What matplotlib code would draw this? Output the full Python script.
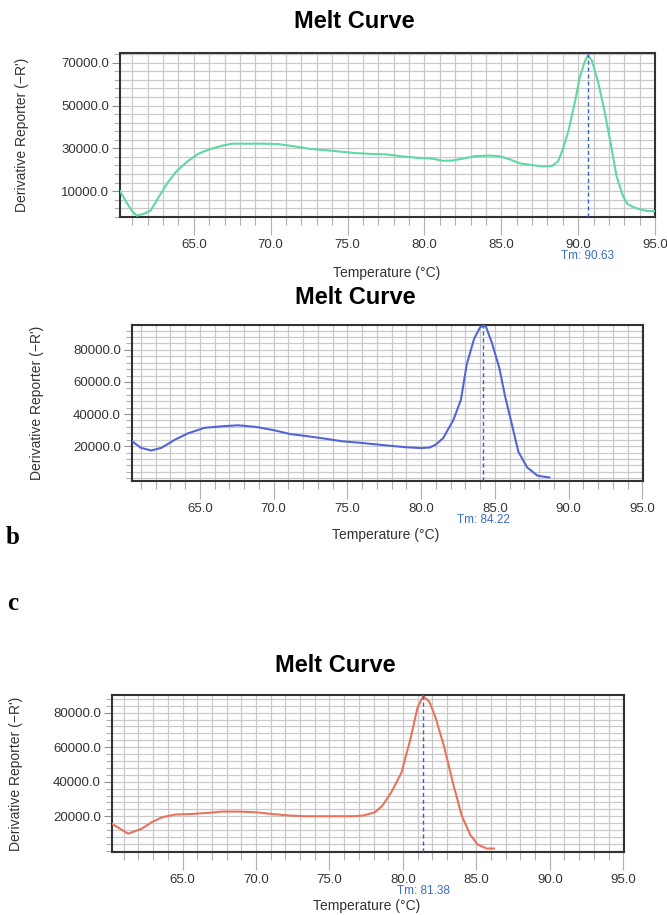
import numpy as np
import matplotlib
matplotlib.use("Agg")
import matplotlib.pyplot as plt
from matplotlib.ticker import FixedLocator, MultipleLocator

plt.rcParams["font.family"] = ["Liberation Sans", "DejaVu Sans"]

# panel a: green curve
temp_a = [60.2, 60.6, 61.0, 61.3, 61.8, 62.2, 62.7, 63.3, 63.9, 64.6, 65.3, 66.0,
          66.8, 67.5, 68.5, 69.5, 70.5, 71.5, 72.5, 73.5, 74.5, 75.5, 76.5, 77.5,
          78.5, 79.5, 80.5, 81.2, 81.8, 82.5, 83.3, 84.3, 84.9, 85.5, 86.2, 86.9,
          87.7, 88.3, 88.7, 89.0, 89.4, 89.8, 90.1, 90.4, 90.63, 90.9, 91.3, 91.7,
          92.1, 92.5, 92.9, 93.2, 93.6, 94.0, 94.5, 95.0]
deriv_a = [10000, 5000, 500, -1500, -500, 1000, 7000, 14000, 19500, 24000, 27500, 29500,
           31200, 32200, 32200, 32200, 32000, 31000, 29800, 29200, 28500, 27800, 27400, 27200,
           26300, 25600, 25200, 24200, 24300, 25200, 26400, 26600, 26300, 25000, 23000, 22300,
           21500, 21800, 24000, 29500, 39000, 52000, 63000, 70000, 73500, 71000, 61000, 48000,
           33000, 17000, 8000, 4000, 2500, 1500, 700, 600]
tm_a = 90.63

# panel b: blue curve
temp_b = [60.4, 61.0, 61.7, 62.4, 63.3, 64.2, 65.3, 66.5, 67.6, 68.8, 70.0, 71.1,
          72.3, 73.4, 74.6, 76.0, 77.5, 78.9, 80.0, 80.6, 81.0, 81.5, 82.2, 82.7,
          83.1, 83.6, 84.0, 84.22, 84.4, 84.8, 85.3, 85.7, 86.2, 86.6, 87.2, 87.9, 88.7]
deriv_b = [23100, 19000, 17300, 19000, 24000, 28000, 31400, 32400, 33000, 32000, 30000, 27600,
           26200, 24800, 23100, 22000, 20600, 19400, 18800, 19200, 21000, 25000, 36500, 48800,
           71000, 87000, 94000, 95000, 94500, 84500, 69000, 51000, 32000, 16500, 6700, 1600, 500]
tm_b = 84.22

# panel c: red curve
temp_c = [60.2, 61.3, 62.2, 62.9, 63.6, 64.5, 65.6, 66.8, 67.7, 68.8, 70.0, 71.1,
          72.3, 73.4, 75.2, 76.6, 77.3, 78.1, 78.6, 79.2, 79.9, 80.5, 81.0, 81.38,
          81.8, 82.2, 82.8, 83.4, 84.0, 84.6, 85.1, 85.7, 86.2]
deriv_c = [15600, 9900, 12700, 16500, 19400, 21000, 21300, 22000, 22700, 22700, 22300, 21300,
           20400, 20000, 20000, 20000, 20400, 22300, 26100, 33700, 45200, 64300, 83000, 89500,
           86300, 77700, 60500, 39500, 20400, 9000, 3600, 1300, 1300]
tm_c = 81.38

xticks = [65, 70, 75, 80, 85, 90, 95]
yticks_a = [10000, 30000, 50000, 70000]
yticks_bc = [20000, 40000, 60000, 80000]

W, H = 667, 915
fig = plt.figure(figsize=(W / 100, H / 100), dpi=100)


def panel(box, temp, deriv, tm, color, xlim, ylim, yticks, ybase,
          title_xy, ylab_x, xlab_xy):
    l, t, r, b = box
    ax = fig.add_axes([l / W, 1 - b / H, (r - l) / W, (b - t) / H])
    ax.plot(temp, deriv, color=color, lw=1.5, zorder=3, solid_joinstyle="round")
    ax.axvline(tm, color="#3a62c8", ls=(0, (3, 2)), lw=1.0, zorder=4)
    ax.set_xlim(*xlim)
    ax.set_ylim(*ylim)
    ax.set_xticks(xticks)
    ax.set_xticklabels([f"{v:.1f}" for v in xticks])
    ax.xaxis.set_minor_locator(MultipleLocator(1))
    ax.set_yticks(yticks)
    ax.set_yticklabels([f"{v:.1f}" for v in yticks])
    ax.yaxis.set_minor_locator(FixedLocator(np.arange(ybase - 40000, 120000, 4000)))
    ax.grid(which="both", color="#c9c9c9", lw=0.9, zorder=0)
    ax.set_axisbelow(True)
    ax.tick_params(axis="x", which="major", length=13, width=0.8, color="#b0b0b0",
                   labelsize=9.5, labelcolor="#333333", pad=3)
    ax.tick_params(axis="x", which="minor", length=6, width=0.8, color="#b0b0b0")
    ax.tick_params(axis="y", which="major", length=6, width=0.8, color="#909090",
                   labelsize=9.5, labelcolor="#333333", pad=2)
    ax.tick_params(axis="y", which="minor", length=4, width=0.8, color="#b0b0b0")
    for s in ax.spines.values():
        s.set_color("#333333")
        s.set_linewidth(1.5)
    ax.annotate(f"Tm: {tm:.2f}", xy=(tm, 0), xycoords=("data", "axes fraction"),
                xytext=(0, -39), textcoords="offset pixels", ha="center", va="center",
                color="#3a6cc8", fontsize=8.5)
    fig.text(title_xy[0] / W, 1 - title_xy[1] / H, "Melt Curve", ha="center", va="center",
             fontsize=17, fontweight="bold")
    fig.text(ylab_x / W, 1 - (t + b) / 2 / H, "Derivative Reporter (\u2212R')",
             rotation=90, ha="center", va="center", fontsize=10, color="#333333")
    fig.text(xlab_xy[0] / W, 1 - xlab_xy[1] / H, "Temperature (\u00b0C)", ha="center",
             va="center", fontsize=10, color="#333333")
    return ax


panel((120, 53, 655, 217), temp_a, deriv_a, tm_a, "#5fd8a2", (60.2, 95.0),
      (-2100, 74600), yticks_a, 10000, (354, 22), 22, (387, 273))
panel((132, 325, 643, 481), temp_b, deriv_b, tm_b, "#5565d6", (60.4, 95.05),
      (-1700, 95500), yticks_bc, 0, (355, 297), 37, (386, 535))
panel((112, 695, 624, 852), temp_c, deriv_c, tm_c, "#e8735e", (60.2, 95.05),
      (-700, 90200), yticks_bc, 0, (335, 665), 16, (367, 906))

fig.text(13 / W, 1 - 538 / H, "b", fontsize=18, fontweight="bold",
         family=["Liberation Serif", "DejaVu Serif"], va="center", ha="center")
fig.text(13 / W, 1 - 604 / H, "c", fontsize=18, fontweight="bold",
         family=["Liberation Serif", "DejaVu Serif"], va="center", ha="center")

fig.savefig("out.png", dpi=100)
